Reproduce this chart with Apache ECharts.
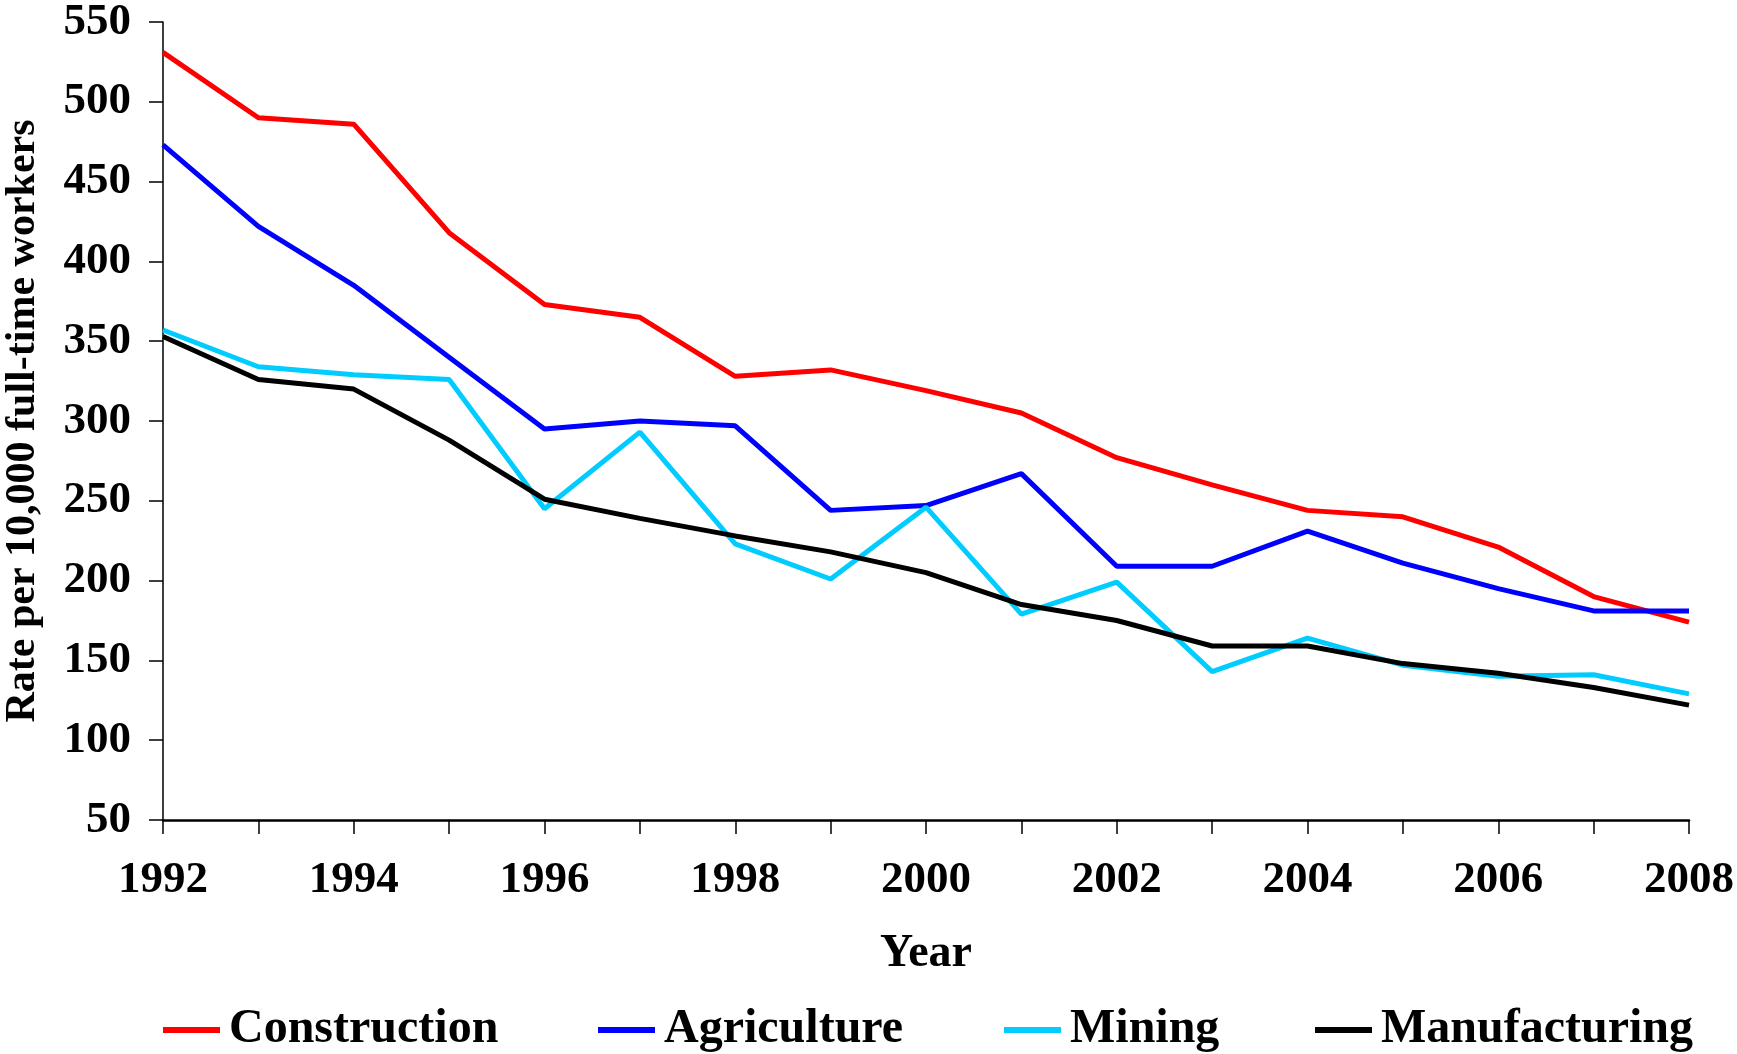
<!DOCTYPE html>
<html>
<head>
<meta charset="utf-8">
<script src="https://cdn.jsdelivr.net/npm/echarts@6/dist/echarts.min.js"></script>
<style>
html, body { margin: 0; padding: 0; background: #fff; }
#chart { width: 1737px; height: 1054px; }
</style>
</head>
<body>
<div id="chart"></div>
<script>
const years = ['1992','1993','1994','1995','1996','1997','1998','1999','2000','2001','2002','2003','2004','2005','2006','2007','2008']
const construction = [531, 490, 486, 418, 373, 365, 328, 332, 319, 305, 277, 260, 244, 240, 221, 190, 174]
const agriculture = [473, 422, 385, 340, 295, 300, 297, 244, 247, 267, 209, 209, 231, 211, 195, 181, 181]
const mining = [357, 334, 329, 326, 245, 293, 223, 201, 246, 179, 199, 143, 164, 147, 140, 141, 129]
const manufacturing = [353, 326, 320, 288, 251, 239, 228, 218, 205, 185, 175, 159, 159, 148, 142, 133, 122]

const font = '"Liberation Serif", "Times New Roman", serif'
const txt = { fontFamily: font, fontWeight: 'bold', fontSize: 45, color: '#000' }

function legendAt(name, left){
    return {
        data: [name],
        left: left,
        top: 1001,
        icon: 'rect',
        itemWidth: 57,
        itemHeight: 6,
        itemGap: 0,
        textStyle: Object.assign({}, txt, { fontSize: 48, padding: [0, 0, 0, 4] })
    }
}

let chart = echarts.init(document.getElementById('chart'))
chart.setOption({
    animation: false,
    grid: {
        left: 163,
        right: 48,
        top: 22,
        bottom: 234,
        containLabel: false,
        outerBoundsMode: 'none'
    },
    legend: [
        legendAt('Construction', 158),
        legendAt('Agriculture', 593),
        legendAt('Mining', 999),
        legendAt('Manufacturing', 1310)
    ],
    xAxis: {
        type: 'category',
        data: years,
        boundaryGap: false,
        name: 'Year',
        nameLocation: 'middle',
        nameGap: 111,
        nameTextStyle: Object.assign({}, txt, { fontSize: 46 }),
        axisLine: { lineStyle: { color: '#000', width: 2.5 } },
        axisTick: { show: true, interval: 0, length: 14, lineStyle: { color: '#000', width: 1.5 } },
        axisLabel: Object.assign({}, txt, { interval: 1, margin: 38 }),
        splitLine: { show: false }
    },
    yAxis: {
        type: 'value',
        min: 50,
        max: 550,
        interval: 50,
        name: 'Rate per 10,000 full-time workers',
        nameLocation: 'middle',
        nameRotate: 90,
        nameGap: 119,
        nameTextStyle: Object.assign({}, txt, { fontSize: 42 }),
        axisLine: { show: true, lineStyle: { color: '#000', width: 1.5 } },
        axisTick: { show: true, length: 14, lineStyle: { color: '#000', width: 1.5 } },
        axisLabel: Object.assign({}, txt, { margin: 32 }),
        splitLine: { show: false }
    },
    series: [
        { name: 'Construction', type: 'line', data: construction, showSymbol: false, color: '#ff0000', lineStyle: { width: 5 } },
        { name: 'Agriculture', type: 'line', data: agriculture, showSymbol: false, color: '#0000ff', lineStyle: { width: 5 } },
        { name: 'Mining', type: 'line', data: mining, showSymbol: false, color: '#00ccff', lineStyle: { width: 5 } },
        { name: 'Manufacturing', type: 'line', data: manufacturing, showSymbol: false, color: '#000000', lineStyle: { width: 5 } }
    ]
})
</script>
</body>
</html>
